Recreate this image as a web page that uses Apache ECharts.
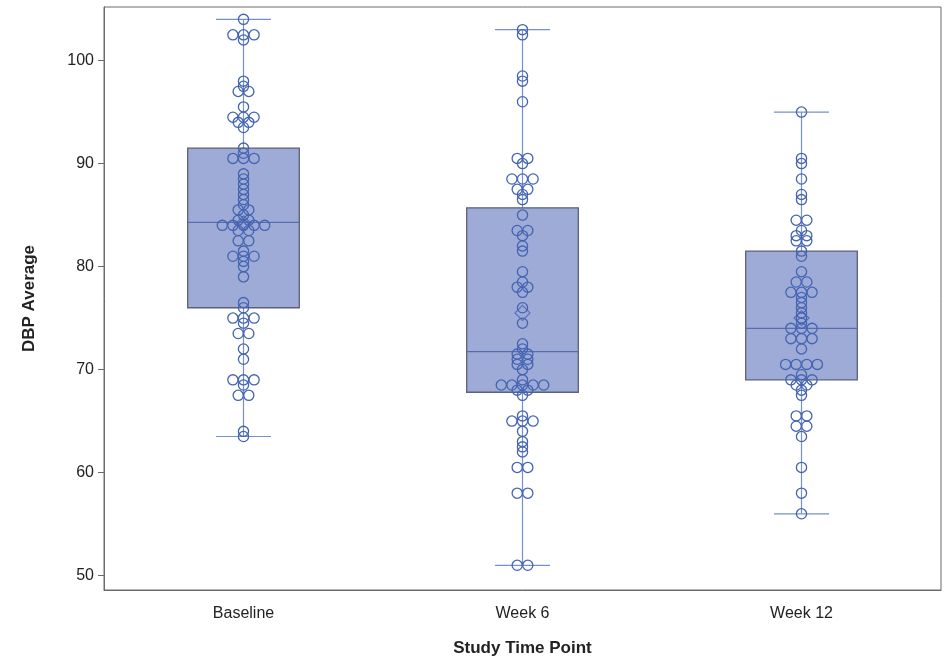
<!DOCTYPE html>
<html>
<head>
<meta charset="utf-8">
<script src="https://cdn.jsdelivr.net/npm/echarts@6/dist/echarts.min.js"></script>
<style>html,body{margin:0;padding:0;background:#fff}#c{width:951px;height:659px}</style>
</head>
<body>
<div id="c"></div>
<script>
const categories = ['Baseline', 'Week 6', 'Week 12'];
const yTicks = [50, 60, 70, 80, 90, 100];

const baseline = [104, 102.5, 102.5, 102.5, 102, 98, 97.5, 97, 97, 95.5, 94.5, 94.5, 94.5, 94, 94, 93.5,
  91.5, 91, 90.5, 90.5, 90.5, 89, 88.5, 88, 87.5, 87, 86.5, 86, 85.5, 85.5, 85, 84.5, 84.5,
  84, 84, 84, 84, 84, 83.5, 83.5, 82.5, 82.5, 81.5, 81, 81, 81, 80.5, 80, 79,
  76.5, 76, 75, 75, 75, 74.5, 73.5, 73.5, 72, 71, 69, 69, 69, 68.5, 67.5, 67.5, 64, 63.5];
const week6 = [103, 102.5, 98.5, 98, 96, 90.5, 90.5, 90, 88.5, 88.5, 88.5, 87.5, 87.5, 87, 86.5, 85,
  83.5, 83.5, 83, 82, 81.5, 79.5, 78.5, 78, 78, 77.5, 76, 74.5, 72.5, 72, 71.5, 71.5, 71, 71,
  70.5, 70.5, 70, 69, 68.5, 68.5, 68.5, 68.5, 68.5, 68, 68, 67.5, 65.5, 65, 65, 65, 64, 63,
  62.5, 62, 60.5, 60.5, 58, 58, 51, 51];
const week12 = [95, 90.5, 90, 88.5, 87, 86.5, 84.5, 84.5, 83.5, 83, 83, 82.5, 82.5, 81.5, 81, 79.5,
  78.5, 78.5, 77.5, 77.5, 77.5, 77, 76.5, 76, 75.5, 75, 74.5, 74, 74, 74, 73, 73, 73, 72,
  70.5, 70.5, 70.5, 70.5, 69.5, 69, 69, 69, 68.5, 68.5, 68, 67.5, 65.5, 65.5, 64.5, 64.5,
  63.5, 60.5, 58, 56];
// [min, Q1, median, Q3, max]
const boxStats = [
  [63.5, 76.0, 84.3, 91.5, 104],
  [51, 67.8, 71.75, 85.7, 103],
  [56, 69.0, 74.0, 81.5, 95]
];
const means = [84.2, 75.5, 75.0];

const UNIT = 10.6; // px jitter spacing
const groups = [baseline, week6, week12];
const pointData = [];
groups.forEach((arr, ci) => {
  const counts = {};
  arr.forEach(v => { counts[v] = (counts[v] || 0) + 1; });
  const seen = {};
  arr.forEach(v => {
    const n = counts[v];
    const i = seen[v] || 0;
    seen[v] = i + 1;
    pointData.push([ci, v, i - (n - 1) / 2]);
  });
});
const boxData = boxStats.map((s, i) => [i].concat(s));
const meanData = means.map((m, i) => [i, m]);

const chart = echarts.init(document.getElementById('c'), null, {renderer: 'canvas'});
const font = 'Liberation Sans, Arial, sans-serif';
chart.setOption({
  animation: false,
  grid: {left: 104, right: 10, top: 7, bottom: 69, show: true, borderColor: '#6b6b6b', borderWidth: 1,
    containLabel: false, outerBoundsMode: 'none'},
  xAxis: {
    type: 'category', data: categories, boundaryGap: true,
    name: 'Study Time Point', nameLocation: 'middle', nameGap: 50,
    nameTextStyle: {fontFamily: font, fontSize: 17, fontWeight: 'bold', color: '#222'},
    axisLine: {lineStyle: {color: '#6b6b6b'}},
    axisTick: {alignWithLabel: true, length: 7, lineStyle: {color: '#6b6b6b'}},
    axisLabel: {fontFamily: font, fontSize: 16, color: '#222', margin: 16},
    splitLine: {show: false}
  },
  yAxis: {
    type: 'value', min: 48.6, max: 105.2,
    name: 'DBP Average', nameLocation: 'middle', nameGap: 66, nameRotate: 90,
    nameTextStyle: {fontFamily: font, fontSize: 17, fontWeight: 'bold', color: '#222'},
    axisLine: {show: true, lineStyle: {color: '#6b6b6b'}},
    axisTick: {show: true, length: 6, customValues: yTicks, lineStyle: {color: '#6b6b6b'}},
    axisLabel: {fontFamily: font, fontSize: 16, color: '#222', margin: 10, customValues: yTicks},
    splitLine: {show: false}
  },
  series: [
    {
      type: 'custom', z: 1,
      data: boxData,
      encode: {x: 0, y: [1, 2, 3, 4, 5]},
      renderItem: function (params, api) {
        const ci = api.value(0);
        const band = api.size([1, 0])[0];
        const pMin = api.coord([ci, api.value(1)]);
        const pQ1 = api.coord([ci, api.value(2)]);
        const pMed = api.coord([ci, api.value(3)]);
        const pQ3 = api.coord([ci, api.value(4)]);
        const pMax = api.coord([ci, api.value(5)]);
        const x = pMin[0];
        const bw = band * 0.4, cw = band * 0.197;
        const wStyle = {stroke: '#7590cf', lineWidth: 1.2};
        return {
          type: 'group',
          children: [
            {type: 'line', shape: {x1: x, y1: pMin[1], x2: x, y2: pMax[1]}, style: wStyle},
            {type: 'line', shape: {x1: x - cw / 2, y1: pMin[1], x2: x + cw / 2, y2: pMin[1]}, style: wStyle},
            {type: 'line', shape: {x1: x - cw / 2, y1: pMax[1], x2: x + cw / 2, y2: pMax[1]}, style: wStyle},
            {type: 'rect', shape: {x: x - bw / 2, y: pQ3[1], width: bw, height: pQ1[1] - pQ3[1]},
              style: {fill: '#9eabd7', stroke: '#5b6178', lineWidth: 1.3}},
            {type: 'line', z2: 10, shape: {x1: x - bw / 2, y1: pMed[1], x2: x + bw / 2, y2: pMed[1]},
              style: {stroke: '#5a6cb0', lineWidth: 1.2}}
          ]
        };
      }
    },
    {
      type: 'custom', z: 2,
      data: pointData,
      encode: {x: 0, y: 1},
      renderItem: function (params, api) {
        const c = api.coord([api.value(0), api.value(1)]);
        return {
          type: 'circle',
          shape: {cx: c[0] + api.value(2) * UNIT, cy: c[1], r: 5.1},
          style: {fill: 'none', stroke: '#4464b2', lineWidth: 1.3}
        };
      }
    },
    {
      type: 'scatter', z: 3,
      data: meanData,
      symbol: 'diamond', symbolSize: [15, 15],
      itemStyle: {color: 'none', borderColor: '#4464b2', borderWidth: 1.2}
    }
  ]
});
</script>
</body>
</html>
